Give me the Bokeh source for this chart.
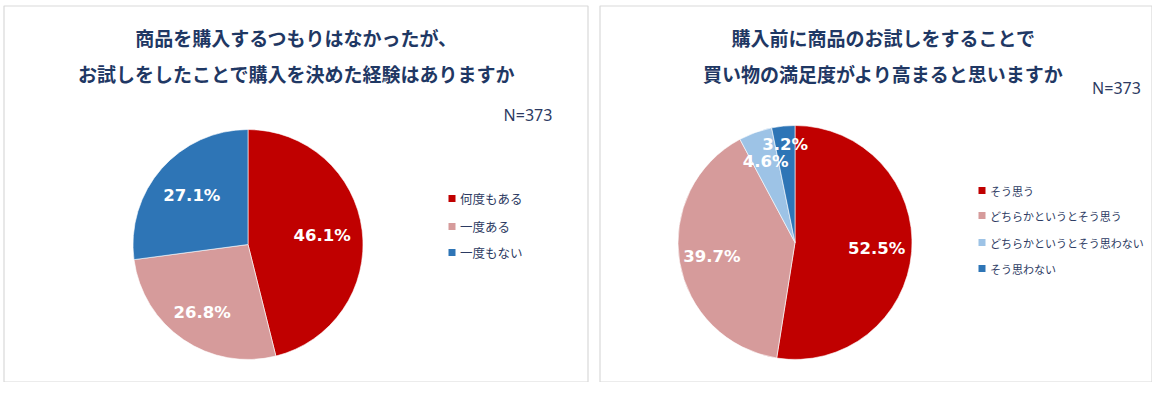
import math
from bokeh.plotting import figure
from bokeh.models import Range1d, ColumnDataSource
from bokeh.core.properties import value
from bokeh.embed import file_html
from bokeh.resources import INLINE

# ---------------- data ----------------
q1_title = ["商品を購入するつもりはなかったが、", "お試しをしたことで購入を決めた経験はありますか"]
q1_categories = ["何度もある", "一度ある", "一度もない"]
q1_values = [46.1, 26.8, 27.1]

q2_title = ["購入前に商品のお試しをすることで", "買い物の満足度がより高まると思いますか"]
q2_categories = ["そう思う", "どちらかというとそう思う", "どちらかというとそう思わない", "そう思わない"]
q2_values = [52.5, 39.7, 4.6, 3.2]

n_label = "N=373"

# ---------------- style ----------------
q1_colors = ["#C00000", "#D69B9B", "#2E75B6"]
q2_colors = ["#C00000", "#D69B9B", "#9DC3E6", "#2E75B6"]
q1_label_r = [0.65, 0.71, 0.65]
q2_label_r = [0.70, 0.72, 0.74, 0.84]

TITLE_COLOR = "#1F3864"
TEXT_COLOR = "#2C3A62"
JP = value("Noto Sans CJK JP")

W, H = 1152, 382
REF_H = 398


def Y(ref_y):
    return REF_H - ref_y


p = figure(width=W, height=H, x_range=Range1d(0, W), y_range=Range1d(REF_H - H, REF_H),
           output_backend="svg", toolbar_location=None, min_border=0,
           x_axis_location=None, y_axis_location=None)
p.grid.visible = False
p.outline_line_color = None
p.background_fill_color = "white"
p.border_fill_color = "white"

# panel frames
p.quad(left=[3.5, 599.5], right=[587.5, 1151.5], top=[Y(5.5), Y(5.5)], bottom=[Y(381.5), Y(381.5)],
       fill_color=None, line_color="#D9D9D9", line_width=1.2)


def draw_pie(cx, cy, r, vals, colors, label_r):
    total = float(sum(vals))
    starts, ends, lx, ly, labels = [], [], [], [], []
    acc = 0.0
    for v, f in zip(vals, label_r):
        a0 = math.pi / 2 - 2 * math.pi * acc / total
        mid = acc + v / 2.0
        acc += v
        a1 = math.pi / 2 - 2 * math.pi * acc / total
        starts.append(a0)
        ends.append(a1)
        th = 2 * math.pi * mid / total
        lx.append(cx + f * r * math.sin(th))
        ly.append(Y(cy) + f * r * math.cos(th))
        labels.append(f"{v:.1f}%")
    src = ColumnDataSource(dict(x=[cx] * len(vals), y=[Y(cy)] * len(vals), s=starts, e=ends, c=colors))
    p.wedge(x="x", y="y", radius=r, start_angle="s", end_angle="e", direction="clock",
            fill_color="c", line_color="white", line_width=0.6, source=src)
    lsrc = ColumnDataSource(dict(x=lx, y=ly, t=labels))
    p.text(x="x", y="y", text="t", source=lsrc, text_align="center", text_baseline="middle",
           text_color="white", text_font=value("DejaVu Sans"), text_font_style="bold",
           text_font_size="16.5px")


def draw_title(cx, lines, ys):
    src = ColumnDataSource(dict(x=[cx] * len(lines), y=[Y(v) for v in ys], t=lines))
    p.text(x="x", y="y", text="t", source=src, text_align="center", text_baseline="middle",
           text_color=TITLE_COLOR, text_font=JP, text_font_style="bold", text_font_size="19px")


def draw_legend(x, ys, cats, colors, fs):
    p.scatter(x=[x] * len(cats), y=[Y(v) for v in ys], marker="square", size=7,
              fill_color=colors, line_color=None)
    src = ColumnDataSource(dict(x=[x + 8] * len(cats), y=[Y(v) for v in ys], t=cats))
    p.text(x="x", y="y", text="t", source=src, text_align="left", text_baseline="middle",
           text_color=TEXT_COLOR, text_font=JP, text_font_size=fs)


# left chart
draw_title(296, q1_title, [37, 73])
draw_pie(247.5, 244, 115, q1_values, q1_colors, q1_label_r)
draw_legend(451.5, [198, 226, 252], q1_categories, q1_colors, "12.5px")
p.text(x=[527.5], y=[Y(114)], text=[n_label], text_align="center", text_baseline="middle",
       text_color=TEXT_COLOR, text_font=value("Noto Sans"), text_font_size="16px")

# right chart
draw_title(883, q2_title, [37, 73])
draw_pie(794.5, 242, 117, q2_values, q2_colors, q2_label_r)
draw_legend(981.5, [190, 215, 242, 268], q2_categories, q2_colors, "11px")
p.text(x=[1116], y=[Y(87)], text=[n_label], text_align="center", text_baseline="middle",
       text_color=TEXT_COLOR, text_font=value("Noto Sans"), text_font_size="16px")

open("out.html", "w").write(file_html(p, INLINE))
